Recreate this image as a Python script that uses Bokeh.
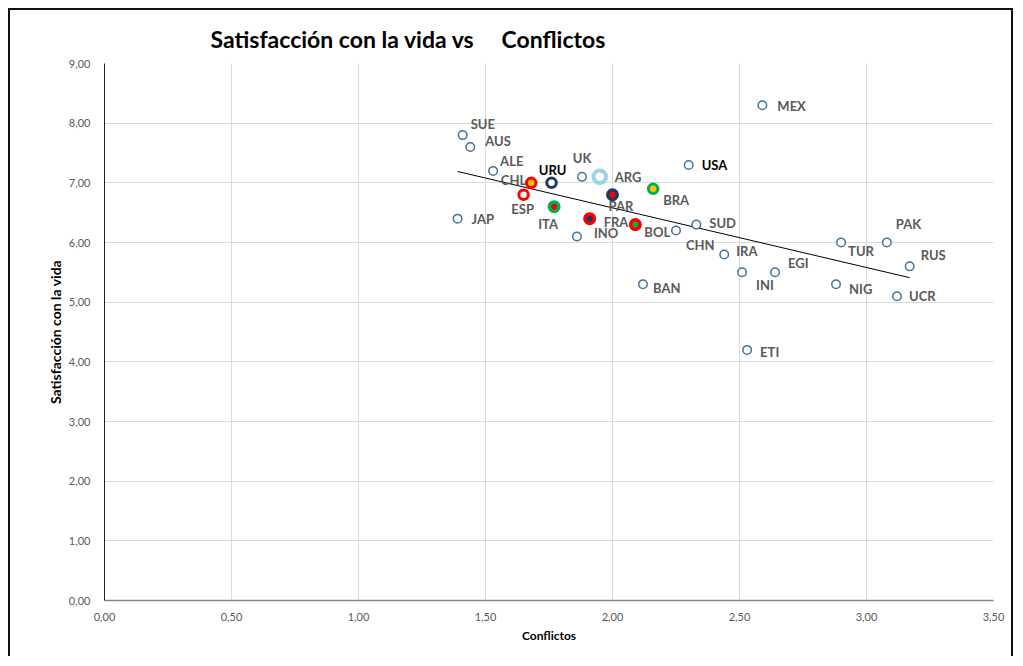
import numpy as np
from bokeh.plotting import figure
from bokeh.models import ColumnDataSource, FixedTicker, Range1d
from bokeh.embed import file_html
from bokeh.resources import INLINE
from bokeh.core.properties import value

# ---------------- data ----------------
countries = ["SUE", "AUS", "ALE", "JAP", "CHL", "URU", "ESP", "ITA", "UK", "ARG",
             "PAR", "BRA", "FRA", "INO", "BOL", "CHN", "SUD", "USA", "MEX", "IRA",
             "INI", "EGI", "ETI", "TUR", "PAK", "RUS", "NIG", "UCR", "BAN"]
conflictos = [1.41, 1.44, 1.53, 1.39, 1.68, 1.76, 1.65, 1.77, 1.88, 1.95,
              2.00, 2.16, 1.91, 1.86, 2.09, 2.25, 2.33, 2.30, 2.59, 2.44,
              2.51, 2.64, 2.53, 2.90, 3.08, 3.17, 2.88, 3.12, 2.12]
satisfaccion = [7.8, 7.6, 7.2, 6.4, 7.0, 7.0, 6.8, 6.6, 7.1, 7.1,
                6.8, 6.9, 6.4, 6.1, 6.3, 6.2, 6.3, 7.3, 8.3, 5.8,
                5.5, 5.5, 4.2, 6.0, 6.0, 5.6, 5.3, 5.1, 5.3]

x_ticks = [0.0, 0.5, 1.0, 1.5, 2.0, 2.5, 3.0, 3.5]
x_tick_labels = ["0,00", "0,50", "1,00", "1,50", "2,00", "2,50", "3,00", "3,50"]
y_ticks = [0, 1, 2, 3, 4, 5, 6, 7, 8, 9]
y_tick_labels = ["0,00", "1,00", "2,00", "3,00", "4,00", "5,00", "6,00", "7,00", "8,00", "9,00"]

title_text = "Satisfacción con la vida vs" + "\u00a0" * 5 + "Conflictos"
x_label = "Conflictos"
y_label = "Satisfacción con la vida"

# ---------------- styles ----------------
BLUE = "#41719C"
RED = "#FF0000"
YEL = "#FFC000"
NAVY = "#1F3864"
GRN = "#00B050"
LBLUE = "#9DD0E3"
default_style = ("white", BLUE, 1.5, 8.5)
marker_style = {  # fill, line, line width, size
    "CHL": (YEL, RED, 3.0, 9.5),
    "URU": ("white", NAVY, 3.0, 9.5),
    "ESP": ("white", RED, 3.0, 9.5),
    "ITA": (RED, GRN, 3.5, 9.5),
    "ARG": ("white", LBLUE, 4.0, 12.5),
    "PAR": (RED, NAVY, 3.5, 9.5),
    "BRA": (YEL, GRN, 3.0, 9.5),
    "FRA": (NAVY, RED, 3.5, 9.5),
    "BOL": (GRN, RED, 3.5, 9.5),
}
# label offsets in pixels: dx, dy (dy positive = down), alignment
label_pos = {
    "SUE": (8, -11, "left"), "AUS": (15, -6, "left"), "ALE": (7, -10, "left"),
    "JAP": (14, 0, "left"), "CHL": (-5, -3, "right"), "URU": (1, -13, "center"),
    "ESP": (-1, 14, "center"), "ITA": (-6, 17, "center"), "UK": (0, -19, "center"),
    "ARG": (15, 0, "left"), "PAR": (-4, 11, "left"), "BRA": (10, 11, "left"),
    "FRA": (14, 3, "left"), "INO": (17, -4, "left"), "BOL": (9, 7, "left"),
    "CHN": (10, 14, "left"), "SUD": (13, -2, "left"), "USA": (13, 0, "left"),
    "MEX": (15, 1, "left"), "IRA": (12, -3, "left"), "INI": (14, 13, "left"),
    "EGI": (13, -9, "left"), "ETI": (13, 2, "left"), "TUR": (7, 8, "left"),
    "PAK": (9, -19, "left"), "RUS": (11, -11, "left"), "NIG": (13, 5, "left"),
    "UCR": (12, 0, "left"), "BAN": (10, 4, "left"),
}
dark_labels = {"USA", "URU"}

FONT = "Lato"

p = figure(width=1005, height=648, output_backend="svg", toolbar_location=None,
           x_range=Range1d(0, 3.5), y_range=Range1d(0, 9),
           min_border_left=94, min_border_right=22, min_border_top=53, min_border_bottom=58)
p.margin = (8, 0, 0, 8)
p.styles = {"border-left": "2px solid #111", "border-top": "2px solid #111",
            "border-right": "2px solid #111"}
p.outline_line_color = None
p.background_fill_color = "white"
p.border_fill_color = "white"

p.title.text = title_text
p.title.align = "left"
p.title.offset = 106
p.title.text_font = FONT
p.title.text_font_size = "23px"
p.title.text_font_style = "bold"
p.title.text_color = "#000000"
p.title.standoff = 21

# axes
p.xaxis.ticker = FixedTicker(ticks=x_ticks)
p.yaxis.ticker = FixedTicker(ticks=y_ticks)
p.xaxis.major_label_overrides = {t: l for t, l in zip(x_ticks, x_tick_labels)}
p.yaxis.major_label_overrides = {t: l for t, l in zip(y_ticks, y_tick_labels)}
for ax in (p.xaxis, p.yaxis):
    ax.major_tick_line_color = None
    ax.minor_tick_line_color = None
    ax.major_label_text_font = FONT
    ax.major_label_text_font_size = "11px"
    ax.major_label_text_color = "#595959"
    ax.axis_label_text_font = FONT
    ax.axis_label_text_font_style = "bold"
    ax.axis_label_text_color = "#000000"
p.xaxis.axis_label = x_label
p.yaxis.axis_label = y_label
p.xaxis.axis_label_text_font_size = "12px"
p.yaxis.axis_label_text_font_size = "14px"
p.xaxis.axis_line_color = "#868686"
p.xaxis.axis_line_width = 1.5
p.yaxis.axis_line_color = "#222222"
p.yaxis.axis_line_width = 1
p.xaxis.major_label_standoff = 6
p.yaxis.major_label_standoff = 8
p.xaxis.axis_label_standoff = 4
p.yaxis.axis_label_standoff = 2

p.xgrid.grid_line_color = "#D9D9D9"
p.ygrid.grid_line_color = "#D9D9D9"

# trend line (least squares from the data)
xs = np.array(conflictos)
ys = np.array(satisfaccion)
m, b = np.polyfit(xs, ys, 1)
tx = [xs.min(), xs.max()]
p.line(tx, [m * v + b for v in tx], line_color="black", line_width=1)

# markers
fills, lines, lws, sizes = [], [], [], []
for c in countries:
    f, l, w, s = marker_style.get(c, default_style)
    fills.append(f); lines.append(l); lws.append(w); sizes.append(s)
src = ColumnDataSource(dict(x=conflictos, y=satisfaccion, fill=fills, line=lines, lw=lws, size=sizes))
p.scatter("x", "y", source=src, marker="circle", size="size", fill_color="fill",
          line_color="line", line_width="lw")

# labels
for align in ("left", "right", "center"):
    d = dict(x=[], y=[], t=[], dx=[], dy=[], col=[])
    for c, xv, yv in zip(countries, conflictos, satisfaccion):
        dx, dy, a = label_pos[c]
        if a != align:
            continue
        d["x"].append(xv); d["y"].append(yv); d["t"].append(c)
        d["dx"].append(dx); d["dy"].append(dy)
        d["col"].append("#000000" if c in dark_labels else "#595959")
    if not d["x"]:
        continue
    p.text("x", "y", text="t", source=ColumnDataSource(d), x_offset="dx", y_offset="dy",
           text_align=align, text_baseline="middle", text_color="col",
           text_font=value(FONT), text_font_size="13px", text_font_style="bold")

open("out.html", "w").write(file_html(p, INLINE))
